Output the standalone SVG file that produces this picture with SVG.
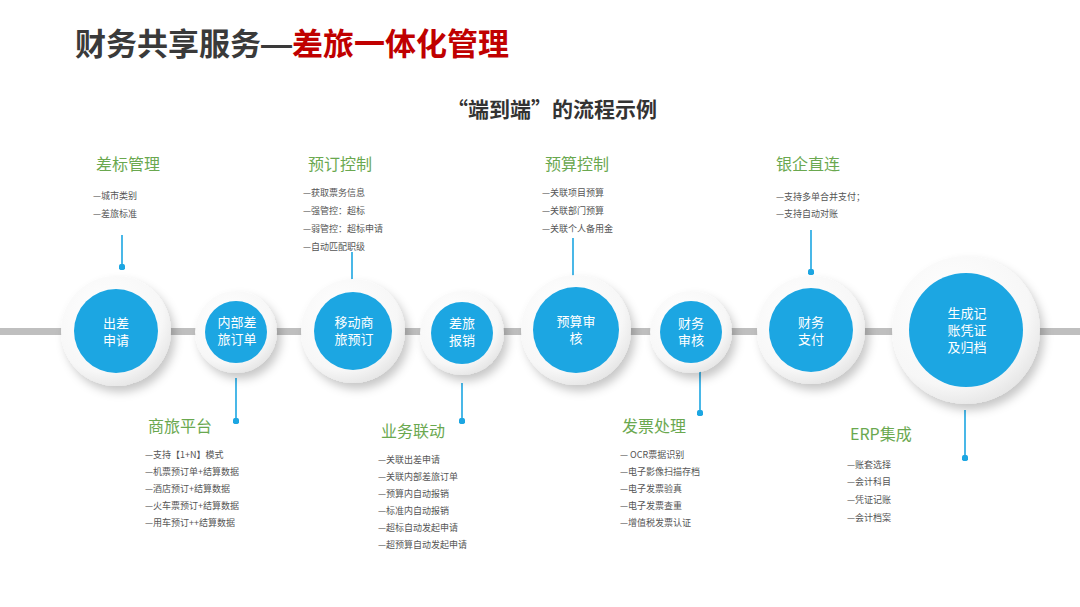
<svg xmlns="http://www.w3.org/2000/svg" width="1080" height="607" viewBox="0 0 1080 607">
<defs>
<filter id="sh" x="-40%" y="-40%" width="180%" height="180%">
<feDropShadow dx="4" dy="6" stdDeviation="5" flood-color="#000" flood-opacity="0.22"/>
</filter>
<radialGradient id="ring" cx="40%" cy="35%" r="70%">
<stop offset="0" stop-color="#ffffff"/>
<stop offset="0.75" stop-color="#f7f7f7"/>
<stop offset="1" stop-color="#e4e4e4"/>
</radialGradient>
<marker id="dot" viewBox="0 0 6 6" refX="3" refY="3" markerWidth="4" markerHeight="4">
<circle cx="3" cy="3" r="3" fill="#1ca6e2"/>
</marker>
</defs>
<style>
text{font-family:"Noto Sans CJK SC","Microsoft YaHei",sans-serif}
.t1{font-size:31px;font-weight:bold;fill:#3a3a3a}
.t2{fill:#c00000}
.dash{font-family:"Liberation Sans",sans-serif}
.sub{font-size:21px;font-weight:bold;fill:#333}
.hd{font-size:16px;fill:#6aa84f}
.it{font-size:9px;fill:#555}
.ct{font-size:13px;fill:#fff;text-anchor:middle}
.ring{fill:url(#ring);filter:url(#sh)}
.blue{fill:#1ca6e2}
.con{stroke:#1ca6e2;stroke-width:1.6;fill:none;marker-end:url(#dot)}
</style>
<rect width="1080" height="607" fill="#fff"/>
<text x="75" y="55" class="t1">财务共享服务<tspan class="dash">—</tspan><tspan class="t2">差旅一体化管理</tspan></text>
<text x="447" y="117" class="sub">“端到端”的流程示例</text>
<rect x="0" y="328" width="1080" height="7" fill="#bfbfbf"/>
<g id="connectors">
<line class="con" x1="122" y1="235" x2="122" y2="267"/>
<line class="con" x1="352" y1="252" x2="352" y2="284"/>
<line class="con" x1="573" y1="238" x2="573" y2="279"/>
<line class="con" x1="811" y1="230" x2="811" y2="272"/>
<line class="con" x1="236" y1="378" x2="236" y2="421"/>
<line class="con" x1="462" y1="383" x2="462" y2="421"/>
<line class="con" x1="700" y1="370" x2="700" y2="413"/>
<line class="con" x1="965" y1="410" x2="965" y2="458"/>
</g>
<g id="n1"><circle class="ring" cx="116" cy="331" r="55"/><circle class="blue" cx="116" cy="331" r="42"/><text class="ct" x="116" y="328">出差</text><text class="ct" x="116" y="345">申请</text></g>
<g id="n2"><circle class="ring" cx="236" cy="332" r="41"/><circle class="blue" cx="236" cy="332" r="31"/><text class="ct" x="237" y="327">内部差</text><text class="ct" x="237" y="344">旅订单</text></g>
<g id="n3"><circle class="ring" cx="353" cy="331" r="52"/><circle class="blue" cx="353" cy="331" r="39"/><text class="ct" x="354" y="327">移动商</text><text class="ct" x="354" y="344">旅预订</text></g>
<g id="n4"><circle class="ring" cx="462" cy="333" r="42"/><circle class="blue" cx="462" cy="333" r="31"/><text class="ct" x="462" y="328">差旅</text><text class="ct" x="462" y="345">报销</text></g>
<g id="n5"><circle class="ring" cx="576" cy="330" r="55"/><circle class="blue" cx="576" cy="330" r="43"/><text class="ct" x="576" y="326">预算审</text><text class="ct" x="576" y="343">核</text></g>
<g id="n6"><circle class="ring" cx="691" cy="332" r="41"/><circle class="blue" cx="691" cy="332" r="31"/><text class="ct" x="691" y="328">财务</text><text class="ct" x="691" y="345">审核</text></g>
<g id="n7"><circle class="ring" cx="811" cy="330" r="54"/><circle class="blue" cx="811" cy="330" r="42"/><text class="ct" x="811" y="327">财务</text><text class="ct" x="811" y="344">支付</text></g>
<g id="n8"><circle class="ring" cx="966" cy="330" r="74"/><circle class="blue" cx="966" cy="330" r="57"/><text class="ct" x="967" y="318">生成记</text><text class="ct" x="967" y="335">账凭证</text><text class="ct" x="967" y="352">及归档</text></g>
<g id="g1"><text class="hd" x="96" y="170">差标管理</text><text class="it" x="93" y="199">—城市类别</text><text class="it" x="93" y="217">—差旅标准</text></g>
<g id="g2"><text class="hd" x="308" y="170">预订控制</text><text class="it" x="303" y="196">—获取票务信息</text><text class="it" x="303" y="214">—强管控：超标</text><text class="it" x="303" y="232">—弱管控：超标申请</text><text class="it" x="303" y="250">—自动匹配职级</text></g>
<g id="g3"><text class="hd" x="545" y="170">预算控制</text><text class="it" x="542" y="196">—关联项目预算</text><text class="it" x="542" y="214">—关联部门预算</text><text class="it" x="542" y="232">—关联个人备用金</text></g>
<g id="g4"><text class="hd" x="776" y="170">银企直连</text><text class="it" x="776" y="200">—支持多单合并支付；</text><text class="it" x="776" y="217">—支持自动对账</text></g>
<g id="g5"><text class="hd" x="148" y="432">商旅平台</text><text class="it" x="145" y="458">—支持【1+N】模式</text><text class="it" x="145" y="475">—机票预订单+结算数据</text><text class="it" x="145" y="492">—酒店预订+结算数据</text><text class="it" x="145" y="509">—火车票预订+结算数据</text><text class="it" x="145" y="526">—用车预订++结算数据</text></g>
<g id="g6"><text class="hd" x="381" y="437">业务联动</text><text class="it" x="378" y="463">—关联出差申请</text><text class="it" x="378" y="480">—关联内部差旅订单</text><text class="it" x="378" y="497">—预算内自动报销</text><text class="it" x="378" y="514">—标准内自动报销</text><text class="it" x="378" y="531">—超标自动发起申请</text><text class="it" x="378" y="548">—超预算自动发起申请</text></g>
<g id="g7"><text class="hd" x="622" y="432">发票处理</text><text class="it" x="620" y="458">— OCR票据识别</text><text class="it" x="620" y="475">—电子影像扫描存档</text><text class="it" x="620" y="492">—电子发票验真</text><text class="it" x="620" y="509">—电子发票查重</text><text class="it" x="620" y="526">—增值税发票认证</text></g>
<g id="g8"><text class="hd" x="850" y="440">ERP集成</text><text class="it" x="847" y="468">—账套选择</text><text class="it" x="847" y="485">—会计科目</text><text class="it" x="847" y="503">—凭证记账</text><text class="it" x="847" y="521">—会计档案</text></g>
</svg>
